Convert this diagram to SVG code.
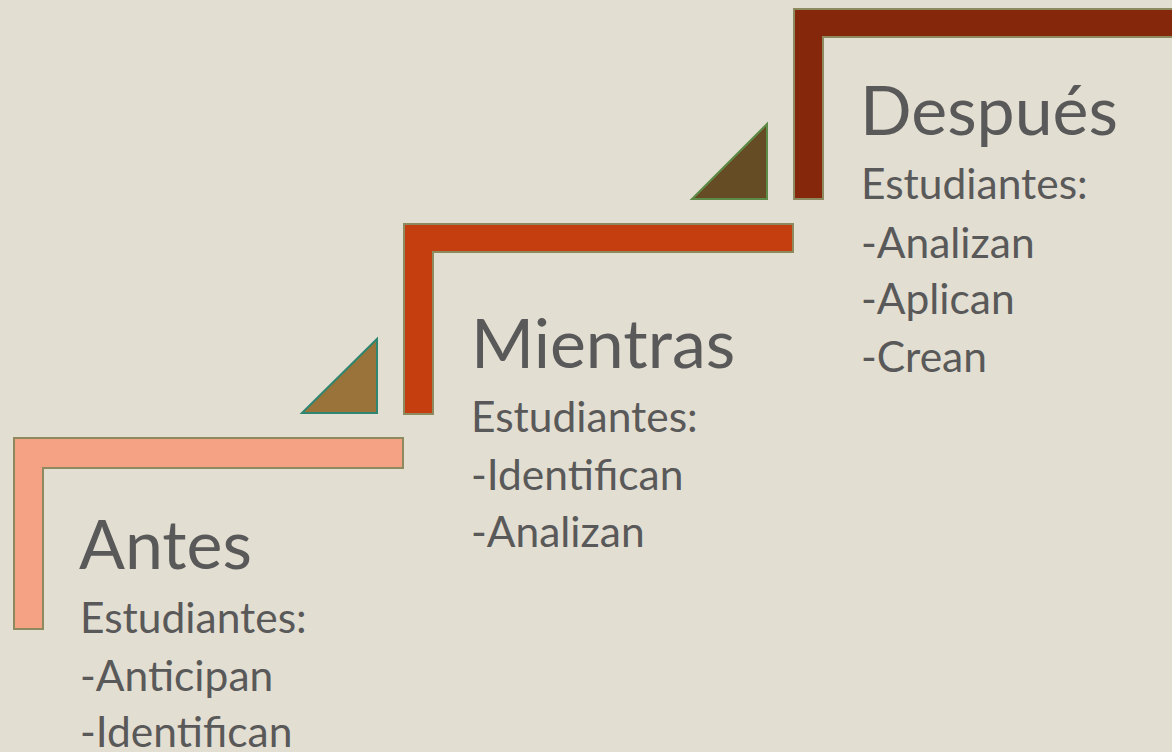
<svg xmlns="http://www.w3.org/2000/svg" width="1172" height="752" viewBox="0 0 1172 752">
<style>
.bg{fill:#E3DED2}
.lshape{stroke:#8C8A5E;stroke-width:2;stroke-linejoin:miter}
.head{font-family:"Gill Sans","Gill Sans MT",Lato,"Liberation Sans",sans-serif;font-size:68px;fill:#595959}
.body{font-family:"Gill Sans","Gill Sans MT",Lato,"Liberation Sans",sans-serif;font-size:42.5px;fill:#595959}
</style>
<rect class="bg" x="0" y="0" width="1172" height="752"/>
<g id="connectors">
<polygon id="tri1" points="302,413 377,339 377,413" fill="#9A733A" stroke="#2E8570" stroke-width="2"/>
<polygon id="tri2" points="692,199 767,124 767,199" fill="#664C25" stroke="#5E8C48" stroke-width="2"/>
</g>
<g id="antes">
<polygon class="lshape" fill="#F5A183" points="14,438 403,438 403,468 43,468 43,629 14,629"/>
<text class="head" x="79" y="569">Antes</text>
<text class="body" x="80" y="633">Estudiantes:</text>
<text class="body" x="80" y="691">-Anticipan</text>
<text class="body" x="80" y="747">-Identifican</text>
</g>
<g id="mientras">
<polygon class="lshape" fill="#C43E10" points="404,224 793,224 793,252 433,252 433,414 404,414"/>
<text class="head" x="471" y="368">Mientras</text>
<text class="body" x="471" y="432">Estudiantes:</text>
<text class="body" x="471" y="490">-Identifican</text>
<text class="body" x="471" y="547">-Analizan</text>
</g>
<g id="despues">
<polygon class="lshape" fill="#84270A" points="794,9 1180,9 1180,37 823,37 823,199 794,199"/>
<text class="head" x="860" y="135">Después</text>
<text class="body" x="861" y="199">Estudiantes:</text>
<text class="body" x="861" y="258">-Analizan</text>
<text class="body" x="861" y="314">-Aplican</text>
<text class="body" x="861" y="372">-Crean</text>
</g>
</svg>
